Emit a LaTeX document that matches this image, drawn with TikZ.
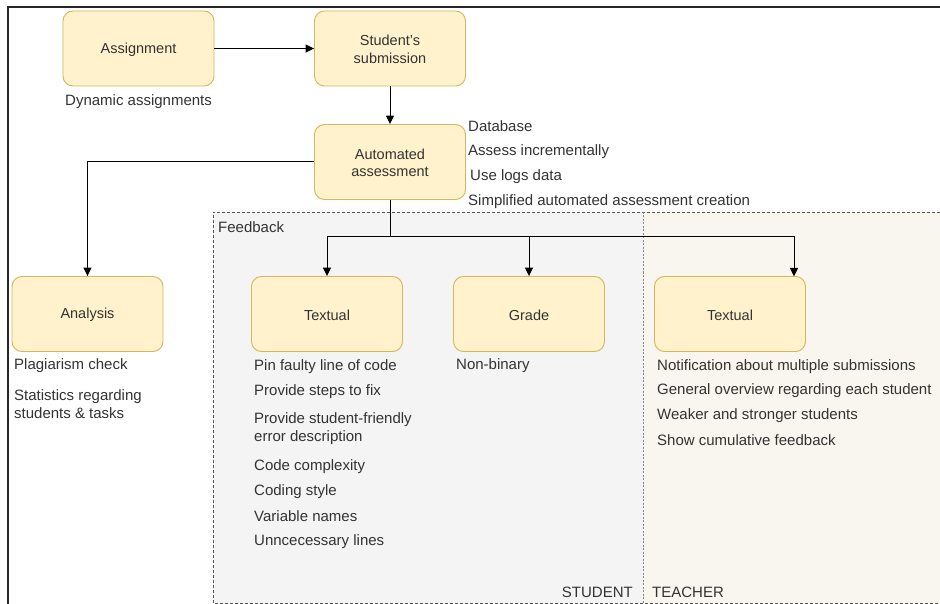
\documentclass[tikz,border=0pt]{standalone}
\usepackage{fontspec}
\setmainfont{Liberation Sans}
\usetikzlibrary{arrows.meta}
\definecolor{boxfill}{HTML}{FFF2CC}
\definecolor{boxline}{HTML}{D6B656}
\definecolor{txt}{HTML}{333333}
\definecolor{stufill}{HTML}{F4F4F4}
\definecolor{teafill}{HTML}{F8F6EE}
\definecolor{dashcol}{HTML}{555555}
\newcommand{\twoline}[2]{\raisebox{-2.5pt}[\height][\depth]{\begin{tabular}{@{}c@{}}#1\\#2\end{tabular}}}
\newcommand{\oneline}[1]{\raisebox{-1pt}[\height][\depth]{#1}}
\tikzset{
  box/.style={draw=boxline, fill=boxfill, line width=0.9pt, rounded corners=10pt,
    minimum width=151pt, minimum height=75pt, inner sep=0pt, align=center,
    font=\fontsize{14.5}{17.5}\selectfont, text=txt},
  lbl/.style={anchor=west, inner sep=0pt, align=left,
    font=\fontsize{15}{18}\selectfont, text=txt},
  conn/.style={line width=1pt, black},
  arr/.style={conn, -{Triangle[length=8.5pt,width=8pt]}},
}
\begin{document}
\begin{tikzpicture}[x=1pt,y=-1pt]
\useasboundingbox (0,0) rectangle (940,604);
% regions
\fill[stufill] (213,212) rectangle (643,604);
\fill[teafill] (643,212) rectangle (940,604);
\draw[dashcol, line width=0.9pt, dash pattern=on 3pt off 2pt] (940,212) -- (213,212) -- (213,603) -- (940,603);
\draw[dashcol!70, line width=0.6pt, dash pattern=on 2pt off 1.5pt] (643,212) -- (643,603);
% outer border
\draw[line width=1.4pt, black!85] (940,7) -- (8,7) -- (8,604);
% boxes
\node[box] (asg) at (138.5,48.5) {\oneline{Assignment}};
\node[box] (sub) at (390,48.5) {\twoline{Student's}{submission}};
\node[box] (auto) at (390,162) {\twoline{Automated}{assessment}};
\node[box] (ana) at (87.5,314) {\oneline{Analysis}};
\node[box] (tx1) at (327,314) {\oneline{Textual}};
\node[box] (grd) at (529,314) {\oneline{Grade}};
\node[box] (tx2) at (730,314) {\oneline{Textual}};
% labels
\node[lbl] (l1) at (65,101.5) {Dynamic assignments};
\node[lbl] (l2) at (468,126.5) {Database};
\node[lbl] (l3) at (468,151.5) {Assess incrementally};
\node[lbl] (l4) at (470,176.5) {Use logs data};
\node[lbl] (l5) at (468,201.5) {Simplified automated assessment creation};
\node[lbl] (fb) at (218,227) {Feedback};
\node[lbl] (a1) at (14,365.5) {Plagiarism check};
\node[lbl] (a2) at (14,404) {Statistics regarding\\students \& tasks};
\node[lbl] (s1) at (254,366.5) {Pin faulty line of code};
\node[lbl] (s2) at (254,391.5) {Provide steps to fix};
\node[lbl] (s3) at (254,428.5) {Provide student-friendly\\error description};
\node[lbl] (s4) at (254,466.5) {Code complexity};
\node[lbl] (s5) at (254,491.5) {Coding style};
\node[lbl] (s6) at (254,516.5) {Variable names};
\node[lbl] (s7) at (254,542) {Unncecessary lines};
\node[lbl] (g1) at (456,365.5) {Non-binary};
\node[lbl] (t1) at (657,366.5) {Notification about multiple submissions};
\node[lbl] (t2) at (657,390.5) {General overview regarding each student};
\node[lbl] (t3) at (657,415.5) {Weaker and stronger students};
\node[lbl] (t4) at (657,440.5) {Show cumulative feedback};
\node[lbl, anchor=east] (stu) at (633,592) {STUDENT};
\node[lbl] (tea) at (652,592) {TEACHER};
% connectors
\draw[arr] (asg) -- (sub);
\draw[arr] (sub) -- (auto);
\draw[arr] (auto.west) -| (ana.north);
\coordinate (split) at (390,237);
\coordinate (tx2in) at (794,276.5);
\draw[conn] (auto.south) -- (split);
\draw[arr] (split) -| (tx1.north);
\draw[arr] (split) -| (grd.north);
\draw[arr] (split) -| (tx2in);
\end{tikzpicture}
\end{document}
